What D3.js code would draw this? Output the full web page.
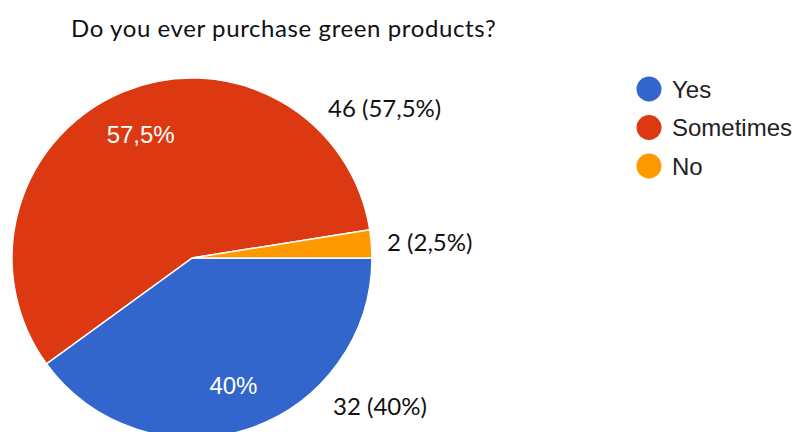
<!DOCTYPE html>
<html>
<head>
<meta charset="utf-8">
<script src="https://cdn.jsdelivr.net/npm/d3@7"></script>
<style>
  html, body { margin: 0; padding: 0; background: #fff; }
  svg { display: block; }
</style>
</head>
<body>
<svg id="chart" width="794" height="432"></svg>
<script>
const title = "Do you ever purchase green products?";
const categories = ["Yes", "Sometimes", "No"];
const counts = [32, 46, 2];
const percentLabels = ["40%", "57,5%", "2,5%"];
const colors = ["#3366cc", "#dc3912", "#ff9900"];

// Layout: where each outside value label sits (left edge, baseline)
const outsideLabelPos = [[333, 415], [328, 117], [387, 251]];

const svg = d3.select("#chart");
const cx = 192, cy = 258, r = 180;
const labelFont = "Lato, 'Open Sans', sans-serif";
const sansFont = "Arial, 'Liberation Sans', sans-serif";

svg.append("text")
  .attr("x", 71).attr("y", 37)
  .attr("font-family", labelFont)
  .attr("font-size", 24)
  .attr("letter-spacing", 0.6)
  .attr("fill", "#111")
  .text(title);

const data = categories.map((c, i) => ({ name: c, value: counts[i], pct: percentLabels[i], color: colors[i] }));

// Slices start at 3 o'clock and run clockwise
const pie = d3.pie().value(d => d.value).sort(null)
  .startAngle(Math.PI / 2).endAngle(Math.PI / 2 + 2 * Math.PI);
const arcs = pie(data);
const arc = d3.arc().innerRadius(0).outerRadius(r);

const g = svg.append("g").attr("transform", `translate(${cx},${cy})`);
g.selectAll("path").data(arcs).join("path")
  .attr("d", arc)
  .attr("fill", d => d.data.color)
  .attr("stroke", "#fff")
  .attr("stroke-width", 1.5);

// Percentage labels inside the large slices
const inner = d3.arc().innerRadius(r * 0.745).outerRadius(r * 0.745);
g.selectAll("text.in").data(arcs.filter(d => d.endAngle - d.startAngle > 0.5)).join("text")
  .attr("class", "in")
  .attr("transform", d => `translate(${inner.centroid(d)})`)
  .attr("text-anchor", "middle")
  .attr("dy", "0.36em")
  .attr("font-family", sansFont)
  .attr("font-size", 24)
  .attr("fill", "#fff")
  .text(d => d.data.pct);

// Count and share labels outside the pie
svg.selectAll("text.out").data(arcs).join("text")
  .attr("class", "out")
  .attr("x", (d, i) => outsideLabelPos[i][0])
  .attr("y", (d, i) => outsideLabelPos[i][1])
  .attr("font-family", labelFont)
  .attr("font-size", 24)
  .attr("fill", "#111")
  .text(d => `${d.data.value} (${d.data.pct})`);

// Legend
const items = svg.append("g").selectAll("g").data(data).join("g")
  .attr("transform", (d, i) => `translate(649, ${89 + i * 38.5})`);
items.append("circle").attr("r", 12.5).attr("fill", d => d.color);
items.append("text")
  .attr("x", 23).attr("dy", "0.36em")
  .attr("font-family", sansFont)
  .attr("font-size", 24)
  .attr("fill", "#222")
  .text(d => d.name);
</script>
</body>
</html>
